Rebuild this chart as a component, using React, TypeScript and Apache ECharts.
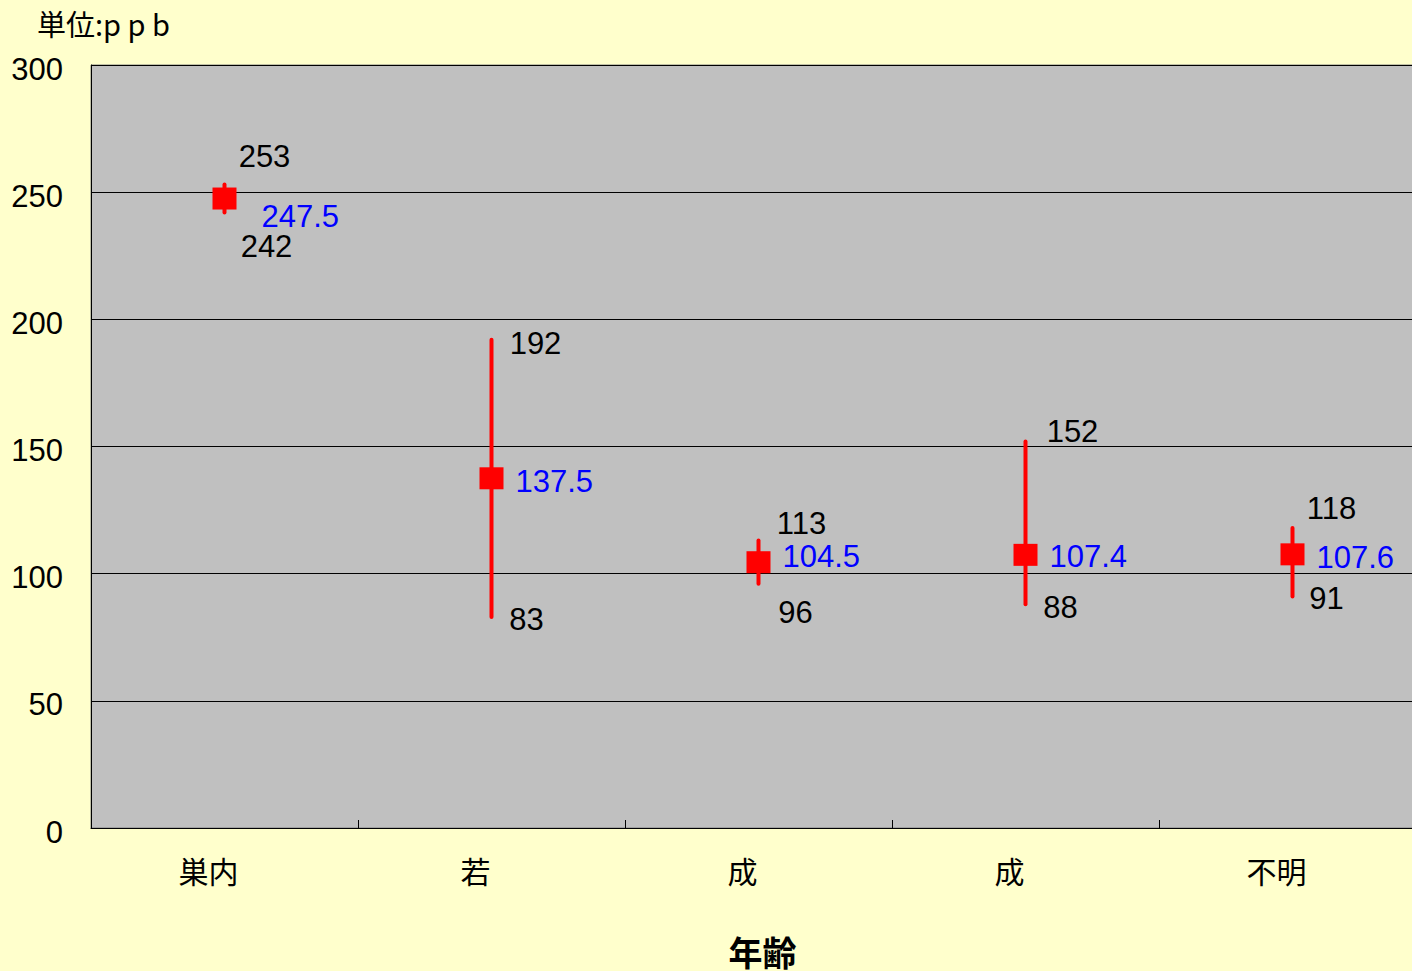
import React, { useEffect, useRef } from "react";
import * as echarts from "echarts";

// Age classes on the category axis
const categories = ["巣内", "若", "成", "成", "不明"];
// Mean, maximum and minimum concentration (ppb) per class
const meanValues = [247.5, 137.5, 104.5, 107.4, 107.6];
const maxValues = [253, 192, 113, 152, 118];
const minValues = [242, 83, 96, 88, 91];
const yTicks = { min: 0, max: 300, interval: 50 };

// Label placement (pixel offsets from each mark)
const maxLabelOffsets = [[40, -28], [44, 4], [43, -17], [47, -10], [39, -19]];
const minLabelOffsets = [[42, 34], [35, 3], [37, 29], [35, 3], [34, 2]];
const meanLabelOffsets = [[25, 18], [12, 3], [12, -6], [12, 2], [12, 3]];

const FONT = "'Liberation Sans', Arial, 'Noto Sans CJK JP', sans-serif";
const CJK = "'Noto Sans CJK JP', 'Liberation Sans', sans-serif";
const NUM_SIZE = 31;

export default function App() {
  const ref = useRef<HTMLDivElement>(null);

  useEffect(() => {
    document.body.style.margin = "0";
    const chart = echarts.init(ref.current!, null, { renderer: "svg" });

    const errorData = categories.map((_, i) => [i, minValues[i], maxValues[i]]);

    const valueLabel = (color: string, position: string) => ({
      show: true,
      position,
      fontFamily: FONT,
      fontSize: NUM_SIZE,
      color,
      formatter: (p: any) => String(p.value[1]),
    });

    chart.setOption({
      animation: false,
      backgroundColor: "#FFFFCC",
      graphic: [
        {
          type: "text",
          left: 37,
          top: 8,
          style: { text: "単位:p p b", font: `29px ${CJK}`, fill: "#000" },
        },
      ],
      grid: {
        left: 91,
        top: 65,
        width: 1335,
        height: 763,
        outerBoundsMode: "none",
        containLabel: false,
        show: true,
        backgroundColor: "#C0C0C0",
        borderColor: "#808080",
        borderWidth: 1,
      },
      xAxis: {
        type: "category",
        data: categories,
        name: "年齢",
        nameLocation: "middle",
        nameGap: 106,
        nameTextStyle: {
          fontFamily: CJK,
          fontSize: 34,
          lineHeight: 34,
          fontWeight: "bold",
          color: "#000",
          padding: [0, 0, 0, 8],
        },
        axisLine: { show: true, lineStyle: { color: "#000", width: 1 } },
        axisTick: { show: true, inside: true, length: 8, lineStyle: { color: "#000" } },
        axisLabel: {
          fontFamily: CJK,
          fontSize: 30,
          color: "#000",
          margin: 27,
          padding: [0, 32, 0, 0],
        },
        splitLine: { show: false },
      },
      yAxis: {
        type: "value",
        min: yTicks.min,
        max: yTicks.max,
        interval: yTicks.interval,
        axisLine: { show: true, lineStyle: { color: "#000", width: 1 } },
        axisTick: { show: false },
        axisLabel: {
          fontFamily: FONT,
          fontSize: NUM_SIZE,
          color: "#000",
          margin: 28,
          verticalAlign: "top",
          lineHeight: 8,
        },
        splitLine: { show: true, lineStyle: { color: "#000", width: 1 } },
      },
      series: [
        {
          type: "custom",
          data: errorData,
          z: 3,
          renderItem: (params: any, api: any) => {
            const x = api.value(0);
            const lo = api.coord([x, api.value(1)]);
            const hi = api.coord([x, api.value(2)]);
            return {
              type: "line",
              shape: { x1: lo[0], y1: lo[1], x2: hi[0], y2: hi[1] },
              style: { stroke: "#FF0000", lineWidth: 4, lineCap: "round" },
            };
          },
        },
        {
          type: "scatter",
          z: 4,
          symbol: "rect",
          symbolSize: [24, 22],
          itemStyle: { color: "#FF0000", opacity: 1 },
          data: meanValues.map((v, i) => ({
            value: [i, v],
            label: { offset: meanLabelOffsets[i] },
          })),
          label: { ...valueLabel("#0000FF", "right"), distance: 0 },
        },
        {
          type: "scatter",
          z: 5,
          symbolSize: 1,
          itemStyle: { color: "rgba(0,0,0,0)", opacity: 1 },
          data: maxValues.map((v, i) => ({
            value: [i, v],
            label: { offset: maxLabelOffsets[i] },
          })),
          label: valueLabel("#000000", "inside"),
        },
        {
          type: "scatter",
          z: 5,
          symbolSize: 1,
          itemStyle: { color: "rgba(0,0,0,0)", opacity: 1 },
          data: minValues.map((v, i) => ({
            value: [i, v],
            label: { offset: minLabelOffsets[i] },
          })),
          label: valueLabel("#000000", "inside"),
        },
      ],
    });

    return () => chart.dispose();
  }, []);

  return <div ref={ref} style={{ width: 1412, height: 971 }} />;
}
